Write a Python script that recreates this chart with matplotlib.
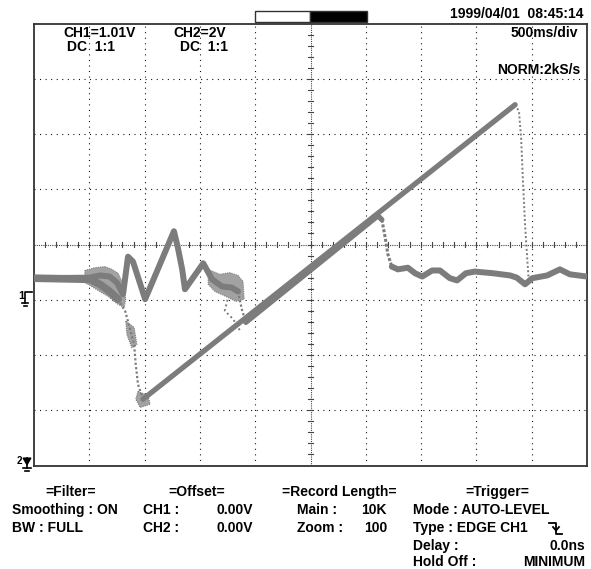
import matplotlib.pyplot as plt
from matplotlib.patches import Polygon, Rectangle

# Screen is 10 x 8 divisions (500 ms/div). x in divisions from the left edge,
# y in divisions from screen centre.

# trace A: flat, falls to the bottom, long ramp, drops back to baseline
a_flat_x = [0.00, 1.01, 1.19, 1.37, 1.52]
a_flat_y = [-0.61, -0.63, -0.72, -0.85, -0.99]
a_fall_x = [1.52, 1.65, 1.74, 1.81, 1.84, 1.88, 1.97]
a_fall_y = [-0.99, -1.21, -1.54, -1.81, -2.17, -2.53, -2.80]
a_ramp_x = [1.97, 5.00, 8.70]
a_ramp_y = [-2.80, -0.40, 2.53]
a_drop_x = [8.70, 8.77, 8.81, 8.84, 8.88, 8.92, 8.95]
a_drop_y = [2.53, 2.41, 1.90, 1.18, 0.36, -0.27, -0.69]

# trace B: zigzag, short ramp, then wavy baseline to the right edge
b_zig_x = [0.00, 1.01, 1.19, 1.37, 1.50, 1.61, 1.70, 1.79, 2.01, 2.53, 2.60,
           2.68, 2.73, 3.06, 3.22, 3.40, 3.58, 3.69]
b_zig_y = [-0.61, -0.60, -0.56, -0.58, -0.69, -0.90, -0.22, -0.31, -0.99, 0.24,
           -0.05, -0.45, -0.81, -0.34, -0.63, -0.76, -0.78, -0.85]
b_fall_x = [3.69, 3.72, 3.76, 3.83]
b_fall_y = [-0.85, -1.00, -1.18, -1.41]
b_ramp_x = [3.83, 6.22, 6.29]
b_ramp_y = [-1.41, 0.52, 0.45]
b_drop_x = [6.29, 6.35, 6.40, 6.47]
b_drop_y = [0.45, 0.13, -0.18, -0.40]
b_tail_x = [6.47, 6.58, 6.76, 6.89, 7.02, 7.20, 7.34, 7.52, 7.65, 7.81, 7.97,
            8.30, 8.61, 8.73, 8.88, 9.01, 9.28, 9.51, 9.69, 10.00]
b_tail_y = [-0.40, -0.45, -0.42, -0.52, -0.58, -0.47, -0.47, -0.61, -0.65, -0.52,
            -0.49, -0.52, -0.56, -0.60, -0.72, -0.61, -0.56, -0.45, -0.54, -0.58]

# noisy persistence blobs
noise_1_x = [0.92, 1.10, 1.28, 1.41, 1.52, 1.59, 1.66, 1.63, 1.50, 1.34, 1.19, 1.01, 0.92]
noise_1_y = [-0.47, -0.42, -0.40, -0.45, -0.52, -0.67, -0.99, -1.14, -1.07, -0.94, -0.85, -0.74, -0.69]
noise_2_x = [3.15, 3.36, 3.54, 3.69, 3.78, 3.80, 3.65, 3.47, 3.27, 3.15]
noise_2_y = [-0.45, -0.54, -0.51, -0.56, -0.67, -0.99, -1.03, -0.94, -0.85, -0.72]
noise_3_x = [1.66, 1.81, 1.86, 1.77, 1.68]
noise_3_y = [-1.39, -1.50, -1.81, -1.87, -1.63]
noise_4_x = [1.88, 2.06, 2.10, 1.92, 1.84]
noise_4_y = [-2.66, -2.73, -2.89, -2.95, -2.80]
scatter_x = [3.50, 3.45, 3.60, 3.72]
scatter_y = [-1.00, -1.20, -1.35, -1.55]

TRACE = "#7c7c7c"
NOISE = "#a2a2a2"
FONT = "Liberation Sans"


def draw_graticule(ax):
    dots = (0, (0.9, 4.1))
    for i in range(1, 10):
        if i != 5:
            ax.plot([i, i], [-4, 4], color="black", lw=0.8, linestyle=dots, zorder=1)
    for j in range(-3, 4):
        if j != 0:
            ax.plot([0, 10], [j, j], color="black", lw=0.8, linestyle=dots, zorder=1)
    # centre lines with minor ticks every 1/5 division
    ax.plot([0, 10], [0, 0], color="#444444", lw=0.8, linestyle=(0, (1, 1)), zorder=1)
    ax.plot([5, 5], [-4, 4], color="#444444", lw=0.8, linestyle=(0, (1, 1)), zorder=1)
    for k in range(1, 50):
        ax.plot([k * 0.2, k * 0.2], [-0.05, 0.05], color="#444444", lw=0.8, zorder=1)
    for k in range(1, 40):
        ax.plot([4.95, 5.05], [-4 + k * 0.2, -4 + k * 0.2], color="#444444", lw=0.8, zorder=1)


def draw_traces(ax):
    for xs, ys in [(noise_1_x, noise_1_y), (noise_2_x, noise_2_y),
                   (noise_3_x, noise_3_y), (noise_4_x, noise_4_y)]:
        ax.add_patch(Polygon(list(zip(xs, ys)), closed=True, facecolor=NOISE,
                             edgecolor=TRACE, lw=0.8, linestyle=(0, (1, 1)), zorder=2))
    ax.plot(a_flat_x, a_flat_y, color=TRACE, lw=5.5, solid_capstyle="round", zorder=3)
    ax.plot(a_fall_x, a_fall_y, color=TRACE, lw=1.6, linestyle=(0, (1, 1)), zorder=3)
    ax.plot(a_ramp_x, a_ramp_y, color=TRACE, lw=3.8, solid_capstyle="round", zorder=3)
    ax.plot(a_drop_x, a_drop_y, color=TRACE, lw=1.4, linestyle=(0, (1, 1.2)), zorder=3)
    ax.plot(b_zig_x, b_zig_y, color=TRACE, lw=4.3, solid_joinstyle="round",
            solid_capstyle="round", zorder=3)
    ax.plot(b_fall_x, b_fall_y, color=TRACE, lw=1.6, linestyle=(0, (1, 1)), zorder=3)
    ax.plot(scatter_x, scatter_y, color=TRACE, lw=1.4, linestyle=(0, (1, 1.5)), zorder=3)
    ax.plot(b_ramp_x, b_ramp_y, color=TRACE, lw=3.8, solid_capstyle="round", zorder=3)
    ax.plot(b_drop_x, b_drop_y, color=TRACE, lw=2.2, linestyle=(0, (1, 0.6)), zorder=3)
    ax.plot(b_tail_x, b_tail_y, color=TRACE, lw=4.3, solid_joinstyle="round",
            solid_capstyle="round", zorder=3)


def label(ax, x, y, s, ha="left", size=10):
    ax.text(x, y, s, ha=ha, va="center", fontsize=size, fontweight="bold",
            family=FONT, color="black")


def draw_panel(ov):
    # header inside the screen
    label(ov, 63, 33, "CH1=1.01V")
    label(ov, 67, 47, "DC  1:1")
    label(ov, 173, 33, "CH2=2V")
    label(ov, 180, 47, "DC  1:1")
    label(ov, 583, 14, "1999/04/01  08:45:14", ha="right")
    label(ov, 578, 33, "500ms/div", ha="right")
    label(ov, 580, 70, "NORM:2kS/s", ha="right")

    # memory bar
    ov.add_patch(Rectangle((255, 11), 55, 11, facecolor="white", edgecolor="#333333", lw=1))
    ov.add_patch(Rectangle((310, 11), 57, 11, facecolor="black", edgecolor="#333333", lw=1))

    # ground markers
    label(ov, 18, 296, "1", size=8)
    ov.plot([25, 25, 32], [303, 292, 292], color="black", lw=1.2)
    ov.plot([22, 28], [303, 303], color="black", lw=1.2)
    ov.plot([23.5, 26.5], [306, 306], color="black", lw=1.2)
    label(ov, 17, 461, "2", size=7)
    ov.add_patch(Polygon([(23, 458), (31, 458), (27, 465)], closed=True,
                         facecolor="black", edgecolor="black", lw=0.8))
    ov.plot([27, 27], [458, 468], color="black", lw=1.2)
    ov.plot([23, 31], [468, 468], color="black", lw=1.2)
    ov.plot([25, 29], [471, 471], color="black", lw=1.2)

    # settings block under the screen
    label(ov, 45, 492, "=Filter=")
    label(ov, 12, 510, "Smoothing : ON")
    label(ov, 12, 528, "BW : FULL")
    label(ov, 168, 492, "=Offset=")
    label(ov, 143, 510, "CH1 :")
    label(ov, 253, 510, "0.00V", ha="right")
    label(ov, 143, 528, "CH2 :")
    label(ov, 253, 528, "0.00V", ha="right")
    label(ov, 282, 492, "=Record Length=")
    label(ov, 297, 510, "Main :")
    label(ov, 387, 510, "10K", ha="right")
    label(ov, 297, 528, "Zoom :")
    label(ov, 387, 528, "100", ha="right")
    label(ov, 465, 492, "=Trigger=")
    label(ov, 413, 510, "Mode : AUTO-LEVEL")
    label(ov, 413, 528, "Type : EDGE CH1")
    label(ov, 413, 546, "Delay :")
    label(ov, 585, 546, "0.0ns", ha="right")
    label(ov, 413, 562, "Hold Off :")
    label(ov, 585, 562, "MINIMUM", ha="right")
    # falling-edge slope symbol
    ov.plot([549, 556, 556, 562], [523, 523, 534, 534], color="black", lw=1.3)
    ov.plot([553, 556, 559], [527, 530.5, 527], color="black", lw=1.3)


def main():
    fig = plt.figure(figsize=(5.91, 5.69), dpi=100)
    W, H = 591, 569
    left, right, top, bottom = 34, 587, 23.5, 465.5
    ax = fig.add_axes([left / W, (H - bottom) / H, (right - left) / W, (bottom - top) / H])
    ax.set_xlim(0, 10)
    ax.set_ylim(-4, 4)
    ax.set_xticks([])
    ax.set_yticks([])
    for sp in ax.spines.values():
        sp.set_color("#333333")
        sp.set_linewidth(1.3)
    draw_graticule(ax)
    draw_traces(ax)

    ov = fig.add_axes([0, 0, 1, 1], zorder=5)
    ov.set_xlim(0, W)
    ov.set_ylim(H, 0)
    ov.axis("off")
    ov.patch.set_visible(False)
    draw_panel(ov)

    fig.savefig("out.png", dpi=100)
    plt.close(fig)


if __name__ == "__main__":
    main()
